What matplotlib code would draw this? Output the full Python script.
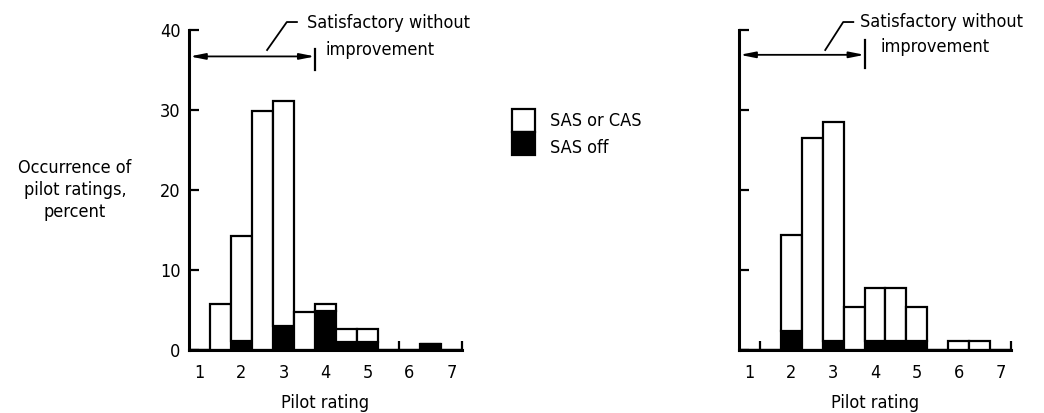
import numpy as np
import matplotlib
matplotlib.use("Agg")
import matplotlib.pyplot as plt
from matplotlib.patches import Rectangle

plt.rcParams['font.family'] = ['DejaVu Sans']
plt.rcParams['font.stretch'] = 'condensed'

# pilot rating bins (half-rating steps)
ratings = [1.0, 1.5, 2.0, 2.5, 3.0, 3.5, 4.0, 4.5, 5.0, 5.5, 6.0, 6.5, 7.0]
tick_labels = ['1', '2', '3', '4', '5', '6', '7']

# left panel, percent of ratings
left_sas_off = [0, 0, 1.1, 0, 3.0, 0, 4.9, 1.0, 1.0, 0, 0, 0.8, 0]
left_sas_cas = [0, 5.7, 13.2, 29.9, 28.1, 4.8, 0.8, 1.6, 1.6, 0, 0, 0, 0]

# right panel, percent of ratings
right_sas_off = [0, 0, 2.4, 0, 1.1, 0, 1.1, 1.1, 1.1, 0, 0, 0, 0]
right_sas_cas = [0, 0, 12.0, 26.5, 27.4, 5.4, 6.7, 6.7, 4.3, 0, 1.1, 1.1, 0]

FS = 13
lw = 1.6

fig = plt.figure(figsize=(10.44, 4.13), dpi=100)
ax1 = fig.add_axes([0.1810, 0.1525, 0.2615, 0.7748])
ax2 = fig.add_axes([0.7079, 0.1525, 0.2605, 0.7748])


def draw_panel(ax, sas_off, sas_cas, edge_tick, show_ylabels):
    x = np.array(ratings)
    ax.bar(x, sas_off, width=0.5, color='black', edgecolor='black', linewidth=lw)
    ax.bar(x, sas_cas, width=0.5, bottom=sas_off, color='white', edgecolor='black', linewidth=lw)
    ax.set_xlim(0.75, 7.25)
    ax.set_ylim(0, 40)
    for s in ['top', 'right']:
        ax.spines[s].set_visible(False)
    ax.spines['left'].set_linewidth(2.2)
    ax.spines['bottom'].set_linewidth(2.2)
    ax.set_xticks([1, 2, 3, 4, 5, 6, 7])
    ax.set_xticklabels(tick_labels, fontsize=FS)
    ax.tick_params(axis='x', which='major', length=0, pad=10)
    ax.set_xticks([edge_tick, 7.25], minor=True)
    ax.tick_params(axis='x', which='minor', direction='in', length=6.5, width=1.6)
    ax.set_yticks([0, 10, 20, 30, 40])
    ax.tick_params(axis='y', direction='in', length=7.5, width=1.6, labelsize=FS, pad=6)
    if not show_ylabels:
        ax.set_yticklabels([])
    ax.set_xlabel('Pilot rating', fontsize=FS, labelpad=9)


def annotate_panel(ax, text_x, text_y, impr_x, impr_y, arrow_y, bar_y, leader_x, leader_y):
    ax.annotate('', xy=(0.77, arrow_y), xytext=(3.75, arrow_y),
                arrowprops=dict(arrowstyle='<|-|>,head_length=0.9,head_width=0.18',
                                color='black', lw=1.3, shrinkA=0, shrinkB=0),
                annotation_clip=False)
    ax.plot([3.75, 3.75], bar_y, color='black', lw=1.6, clip_on=False)
    ax.plot(leader_x, leader_y, color='black', lw=1.3, clip_on=False)
    ax.text(text_x, text_y, 'Satisfactory without', fontsize=FS, va='center', ha='left')
    ax.text(impr_x, impr_y, 'improvement', fontsize=FS, va='center', ha='left')


draw_panel(ax1, left_sas_off, left_sas_cas, 5.75, True)
draw_panel(ax2, right_sas_off, right_sas_cas, 1.25, False)

annotate_panel(ax1, 3.57, 40.9, 4.0, 37.5, 36.7, [35.0, 37.6],
               [2.61, 3.08, 3.32], [37.5, 41.0, 41.0])
annotate_panel(ax2, 3.64, 41.0, 4.12, 37.9, 36.9, [35.3, 38.8],
               [2.81, 3.24, 3.48], [37.5, 41.0, 41.0])

fig.text(75 / 1044, 1 - 190 / 413, 'Occurrence of\npilot ratings,\npercent',
         fontsize=FS, ha='center', va='center', linespacing=1.3)

# legend key
fig.add_artist(Rectangle((512 / 1044, 1 - 132 / 413), 23 / 1044, 23 / 413,
                         transform=fig.transFigure, facecolor='white', edgecolor='black', lw=1.6))
fig.add_artist(Rectangle((512 / 1044, 1 - 155 / 413), 23 / 1044, 23 / 413,
                         transform=fig.transFigure, facecolor='black', edgecolor='black', lw=1.6))
fig.text(550 / 1044, 1 - 121 / 413, 'SAS or CAS', fontsize=FS, va='center', ha='left')
fig.text(550 / 1044, 1 - 148 / 413, 'SAS off', fontsize=FS, va='center', ha='left')

fig.savefig('out.png', dpi=100)
